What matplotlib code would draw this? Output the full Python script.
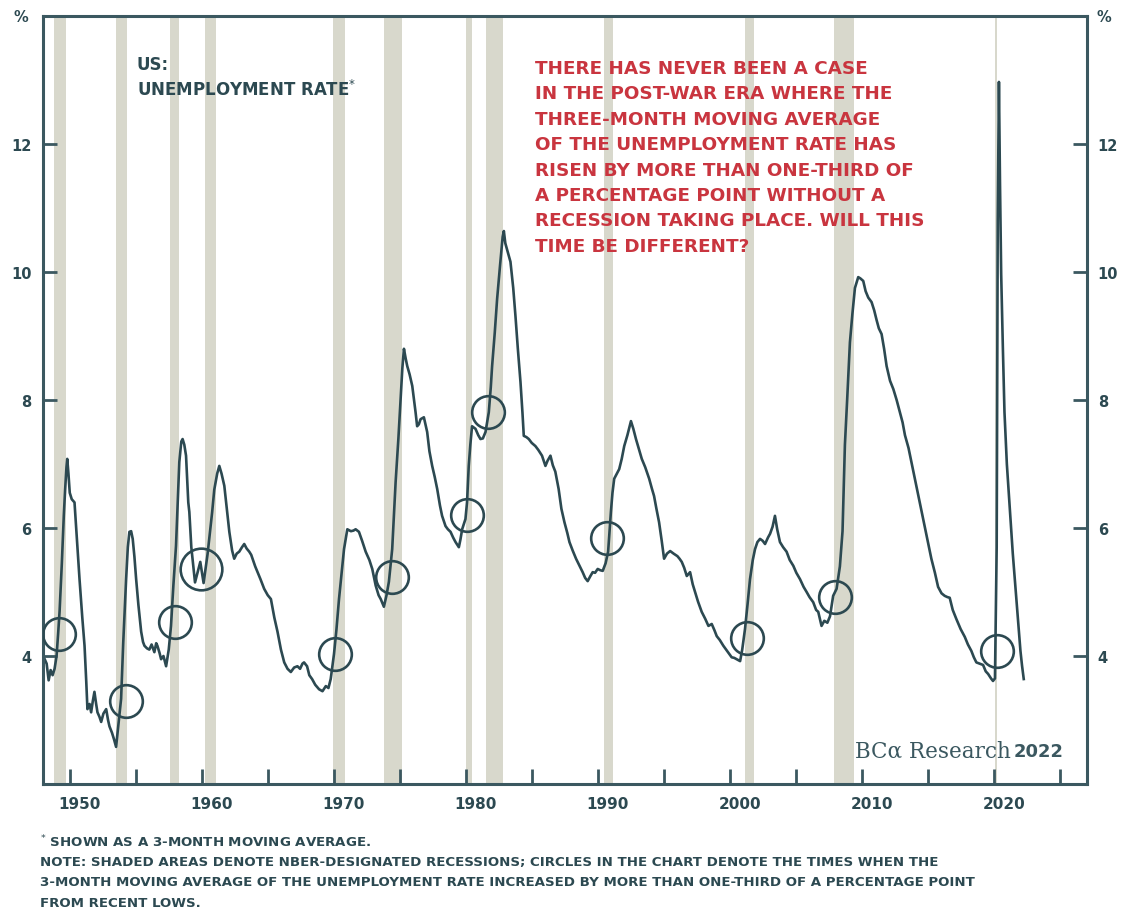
import matplotlib
matplotlib.use("Agg")
import matplotlib.pyplot as plt
import matplotlib.transforms as mtransforms

# US unemployment rate, 3-month moving average (%)
years = [
    1948.10, 1948.25, 1948.40, 1948.55, 1948.70, 1948.85, 1949.00, 1949.12, 1949.23, 1949.40,
    1949.55, 1949.65, 1949.75, 1949.81, 1949.90, 1950.00, 1950.15, 1950.36, 1950.55, 1950.74,
    1950.95, 1951.12, 1951.25, 1951.34, 1951.50, 1951.62, 1951.75, 1951.87, 1952.00, 1952.10,
    1952.25, 1952.38, 1952.55, 1952.76, 1952.90, 1953.01, 1953.20, 1953.35, 1953.51, 1953.70,
    1953.89, 1954.05, 1954.27, 1954.40, 1954.52, 1954.65, 1954.77, 1954.90, 1955.03, 1955.20,
    1955.41, 1955.55, 1955.66, 1955.85, 1956.03, 1956.20, 1956.41, 1956.55, 1956.64, 1956.80,
    1956.92, 1957.10, 1957.30, 1957.50, 1957.67, 1957.85, 1958.05, 1958.20, 1958.30, 1958.45,
    1958.55, 1958.68, 1958.81, 1958.98, 1959.06, 1959.21, 1959.49, 1959.74, 1959.89, 1960.14,
    1960.44, 1960.79, 1960.95, 1961.17, 1961.33, 1961.50, 1961.71, 1961.90, 1962.09, 1962.30,
    1962.46, 1962.65, 1962.84, 1963.05, 1963.22, 1963.40, 1963.60, 1963.75, 1963.85, 1964.05,
    1964.23, 1964.45, 1964.73, 1965.00, 1965.24, 1965.50, 1965.74, 1966.00, 1966.25, 1966.50,
    1966.75, 1967.00, 1967.25, 1967.45, 1967.63, 1967.75, 1967.98, 1968.15, 1968.36, 1968.60,
    1968.89, 1969.15, 1969.40, 1969.60, 1969.77, 1970.02, 1970.20, 1970.40, 1970.60, 1970.78,
    1971.03, 1971.30, 1971.50, 1971.66, 1971.91, 1972.15, 1972.42, 1972.70, 1972.92, 1973.18,
    1973.40, 1973.56, 1973.80, 1974.00, 1974.18, 1974.43, 1974.69, 1974.90, 1975.07, 1975.20,
    1975.32, 1975.45, 1975.57, 1975.75, 1975.95, 1976.20, 1976.32, 1976.45, 1976.58, 1976.83,
    1977.08, 1977.25, 1977.46, 1977.65, 1977.84, 1978.05, 1978.21, 1978.47, 1978.65, 1978.85,
    1979.05, 1979.23, 1979.48, 1979.60, 1979.73, 1979.98, 1980.10, 1980.23, 1980.35, 1980.48,
    1980.74, 1980.95, 1981.12, 1981.30, 1981.50, 1981.75, 1981.90, 1982.00, 1982.20, 1982.38,
    1982.60, 1982.80, 1982.89, 1983.00, 1983.20, 1983.39, 1983.60, 1983.77, 1983.95, 1984.15,
    1984.30, 1984.40, 1984.60, 1984.78, 1985.00, 1985.28, 1985.50, 1985.78, 1986.04, 1986.20,
    1986.42, 1986.60, 1986.79, 1987.04, 1987.25, 1987.48, 1987.70, 1987.86, 1988.10, 1988.36,
    1988.60, 1988.86, 1989.05, 1989.24, 1989.45, 1989.62, 1989.80, 1990.00, 1990.20, 1990.38,
    1990.60, 1990.79, 1991.00, 1991.12, 1991.25, 1991.45, 1991.63, 1991.82, 1992.01, 1992.25,
    1992.52, 1992.70, 1992.90, 1993.10, 1993.34, 1993.60, 1993.90, 1994.10, 1994.27, 1994.45,
    1994.65, 1994.85, 1995.03, 1995.25, 1995.49, 1995.75, 1996.04, 1996.20, 1996.37, 1996.55,
    1996.75, 1997.00, 1997.20, 1997.38, 1997.60, 1997.88, 1998.15, 1998.39, 1998.64, 1998.85,
    1999.02, 1999.25, 1999.52, 1999.80, 2000.15, 2000.35, 2000.53, 2000.79, 2000.95, 2001.16,
    2001.35, 2001.54, 2001.75, 2001.92, 2002.10, 2002.30, 2002.50, 2002.68, 2002.90, 2003.06,
    2003.25, 2003.43, 2003.60, 2003.81, 2004.05, 2004.31, 2004.55, 2004.82, 2005.05, 2005.33,
    2005.60, 2005.83, 2006.05, 2006.33, 2006.55, 2006.71, 2006.96, 2007.17, 2007.40, 2007.60,
    2007.84, 2008.10, 2008.35, 2008.55, 2008.73, 2008.90, 2009.11, 2009.30, 2009.49, 2009.74,
    2009.90, 2010.12, 2010.30, 2010.50, 2010.75, 2010.95, 2011.13, 2011.30, 2011.51, 2011.70,
    2011.89, 2012.15, 2012.40, 2012.65, 2012.89, 2013.10, 2013.28, 2013.55, 2013.78, 2014.05,
    2014.28, 2014.55, 2014.78, 2015.05, 2015.28, 2015.55, 2015.79, 2016.05, 2016.29, 2016.50,
    2016.67, 2016.90, 2017.17, 2017.50, 2017.81, 2018.05, 2018.31, 2018.50, 2018.69, 2018.95,
    2019.20, 2019.40, 2019.58, 2019.80, 2019.95, 2020.10, 2020.23, 2020.31, 2020.40, 2020.48,
    2020.57, 2020.70, 2020.82, 2021.00, 2021.20, 2021.45, 2021.70, 2021.88, 2022.03, 2022.15,
    2022.28,
]
rate = [
    3.95, 3.88, 3.62, 3.78, 3.70, 3.80, 4.00, 4.35, 4.70, 5.45,
    6.20, 6.60, 6.95, 7.08, 6.85, 6.55, 6.45, 6.40, 5.80, 5.20,
    4.60, 4.16, 3.60, 3.17, 3.25, 3.12, 3.30, 3.44, 3.25, 3.12,
    3.05, 2.97, 3.10, 3.17, 3.00, 2.90, 2.80, 2.70, 2.58, 2.95,
    3.33, 4.20, 5.20, 5.70, 5.94, 5.95, 5.83, 5.55, 5.20, 4.80,
    4.38, 4.22, 4.16, 4.12, 4.10, 4.18, 4.06, 4.20, 4.16, 4.05,
    3.95, 4.00, 3.84, 4.10, 4.47, 5.10, 5.72, 6.50, 7.03, 7.35,
    7.39, 7.30, 7.13, 6.40, 6.25, 5.70, 5.15, 5.35, 5.47, 5.14,
    5.59, 6.25, 6.60, 6.85, 6.97, 6.85, 6.66, 6.30, 5.94, 5.65,
    5.52, 5.60, 5.63, 5.70, 5.75, 5.68, 5.63, 5.58, 5.52, 5.40,
    5.31, 5.20, 5.05, 4.95, 4.89, 4.60, 4.38, 4.10, 3.90, 3.80,
    3.75, 3.82, 3.84, 3.80, 3.88, 3.90, 3.84, 3.70, 3.64, 3.55,
    3.48, 3.45, 3.53, 3.50, 3.64, 4.03, 4.40, 4.89, 5.30, 5.67,
    5.98, 5.95, 5.96, 5.98, 5.94, 5.80, 5.63, 5.50, 5.36, 5.10,
    4.95, 4.89, 4.77, 4.95, 5.16, 5.67, 6.72, 7.40, 8.02, 8.50,
    8.80, 8.65, 8.53, 8.40, 8.22, 7.81, 7.59, 7.62, 7.70, 7.73,
    7.50, 7.20, 6.97, 6.80, 6.61, 6.35, 6.19, 6.03, 5.98, 5.94,
    5.85, 5.78, 5.70, 5.82, 5.98, 6.14, 6.40, 6.97, 7.30, 7.59,
    7.55, 7.45, 7.39, 7.40, 7.50, 7.81, 8.20, 8.53, 9.05, 9.58,
    10.10, 10.55, 10.64, 10.45, 10.30, 10.16, 9.75, 9.31, 8.80, 8.28,
    7.80, 7.44, 7.42, 7.39, 7.33, 7.28, 7.22, 7.13, 6.97, 7.05,
    7.13, 6.98, 6.88, 6.61, 6.30, 6.09, 5.92, 5.78, 5.65, 5.52,
    5.42, 5.31, 5.22, 5.17, 5.25, 5.31, 5.30, 5.36, 5.34, 5.33,
    5.45, 5.63, 6.25, 6.55, 6.77, 6.85, 6.92, 7.08, 7.28, 7.45,
    7.67, 7.55, 7.39, 7.25, 7.08, 6.95, 6.77, 6.62, 6.50, 6.30,
    6.09, 5.80, 5.52, 5.60, 5.64, 5.60, 5.56, 5.52, 5.47, 5.38,
    5.25, 5.31, 5.12, 5.00, 4.85, 4.69, 4.58, 4.47, 4.50, 4.40,
    4.31, 4.25, 4.16, 4.08, 3.98, 3.97, 3.95, 3.92, 4.10, 4.42,
    4.80, 5.20, 5.50, 5.67, 5.78, 5.83, 5.80, 5.75, 5.85, 5.91,
    6.02, 6.19, 5.98, 5.78, 5.70, 5.63, 5.50, 5.41, 5.30, 5.20,
    5.08, 5.00, 4.92, 4.84, 4.72, 4.69, 4.47, 4.55, 4.52, 4.62,
    4.94, 5.05, 5.40, 5.95, 7.30, 8.00, 8.90, 9.35, 9.75, 9.92,
    9.90, 9.86, 9.70, 9.60, 9.53, 9.40, 9.25, 9.12, 9.03, 8.80,
    8.53, 8.30, 8.17, 8.00, 7.81, 7.65, 7.45, 7.25, 7.02, 6.75,
    6.52, 6.25, 6.02, 5.75, 5.52, 5.30, 5.08, 4.98, 4.94, 4.92,
    4.91, 4.72, 4.58, 4.42, 4.30, 4.18, 4.08, 3.98, 3.90, 3.88,
    3.86, 3.76, 3.72, 3.65, 3.61, 3.65, 5.70, 10.80, 12.97, 11.40,
    9.97, 8.80, 7.81, 7.00, 6.38, 5.60, 4.94, 4.45, 4.08, 3.85,
    3.64,
]

# NBER recessions (start, end as decimal years)
rec_start = [1948.83, 1953.50, 1957.58, 1960.25, 1969.92, 1973.83, 1980.00, 1981.50,
             1990.50, 2001.17, 2007.92, 2020.08]
rec_end = [1949.75, 1954.33, 1958.25, 1961.08, 1970.83, 1975.17, 1980.50, 1982.83,
           1991.17, 2001.83, 2009.42, 2020.25]

# times when the 3mma rose more than 1/3 pp above recent lows
circle_years = [1949.18, 1954.23, 1957.97, 1959.94, 1970.09, 1974.39, 1980.07, 1981.70,
                1990.67, 2001.28, 2008.01, 2020.22]
circle_rate = [4.34, 3.30, 4.53, 5.36, 4.03, 5.23, 6.21, 7.82, 5.84, 4.28, 4.92, 4.08]

x_ticks = list(range(1950, 2030, 5))
x_labels = ['1950', '', '1960', '', '1970', '', '1980', '', '1990', '', '2000', '',
            '2010', '', '2020', '']
y_ticks = [4, 6, 8, 10, 12]

note_lines = [
    '$^{*}$ SHOWN AS A 3-MONTH MOVING AVERAGE.',
    'NOTE: SHADED AREAS DENOTE NBER-DESIGNATED RECESSIONS; CIRCLES IN THE CHART DENOTE THE TIMES WHEN THE',
    '3-MONTH MOVING AVERAGE OF THE UNEMPLOYMENT RATE INCREASED BY MORE THAN ONE-THIRD OF A PERCENTAGE POINT',
    'FROM RECENT LOWS.',
]
callout_lines = [
    'THERE HAS NEVER BEEN A CASE',
    'IN THE POST-WAR ERA WHERE THE',
    'THREE-MONTH MOVING AVERAGE',
    'OF THE UNEMPLOYMENT RATE HAS',
    'RISEN BY MORE THAN ONE-THIRD OF',
    'A PERCENTAGE POINT WITHOUT A',
    'RECESSION TAKING PLACE. WILL THIS',
    'TIME BE DIFFERENT?',
]

ink = '#2c4951'
frame = '#3b5860'
shade = '#d8d8cc'
red = '#c9353f'

W, H = 1129, 920
fig = plt.figure(figsize=(W / 100, H / 100), dpi=100)
ax = fig.add_axes([42.7 / W, 1 - 785 / H, (1086.7 - 42.7) / W, (785 - 17) / H])


def px(x, y):
    # pixel position (from top-left) to figure fraction
    return x / W, 1 - y / H


for s, e in zip(rec_start, rec_end):
    ax.axvspan(s, e, color=shade, lw=0, zorder=0)

ax.plot(years, rate, color=ink, lw=1.9, zorder=2, solid_joinstyle='round')

for i, (cx, cy) in enumerate(zip(circle_years, circle_rate)):
    ms = 30 if i == 3 else 23.5
    ax.plot(cx, cy, 'o', ms=ms, mfc='none', mec=ink, mew=1.9, zorder=3)

ax.set_xlim(1947.95, 2027.05)
ax.set_ylim(2, 14)

ax.set_xticks(x_ticks)
ax.set_xticklabels(x_labels)
ax.set_yticks(y_ticks)
ax.tick_params(axis='both', direction='in', color=frame, width=2.0, labelcolor=ink)
ax.tick_params(axis='x', length=11, pad=9, labelsize=11)
ax.tick_params(axis='y', length=10, pad=8, labelsize=10.5, right=True, labelright=True)
for lab in ax.get_xticklabels() + ax.get_yticklabels():
    lab.set_fontweight('bold')
shift = mtransforms.ScaledTranslation(10 / 100, 0, fig.dpi_scale_trans)
for lab in ax.get_xticklabels():
    lab.set_transform(lab.get_transform() + shift)

for sp in ax.spines.values():
    sp.set_color(frame)
    sp.set_linewidth(2.2)

# % markers above the y axes
fig.text(*px(21, 18), '%', ha='center', va='center', color=ink, fontsize=10.5, fontweight='bold')
fig.text(*px(1104, 18), '%', ha='center', va='center', color=ink, fontsize=10.5, fontweight='bold')

# series title
fig.text(*px(137, 65), 'US:', ha='left', va='center', color=ink, fontsize=12, fontweight='bold')
fig.text(*px(137, 90), 'UNEMPLOYMENT RATE$^{*}$', ha='left', va='center', color=ink,
         fontsize=12, fontweight='bold')

# red callout
for i, line in enumerate(callout_lines):
    fig.text(*px(535, 69 + i * 25.4), line, ha='left', va='center', color=red,
             fontsize=13.2, fontweight='bold')

# source tag
fig.text(*px(1011, 752), 'BC\u03b1 Research', ha='right', va='center', color=frame,
         fontsize=15.5, family='DejaVu Serif')
fig.text(*px(1064, 752), '2022', ha='right', va='center', color=frame,
         fontsize=13, fontweight='bold')

# footnotes
for i, line in enumerate(note_lines):
    fig.text(*px(40, 842 + i * 20.4), line, ha='left', va='center', color=ink,
             fontsize=9.6, fontweight='bold')

fig.savefig('out.png', dpi=100, facecolor='white')
